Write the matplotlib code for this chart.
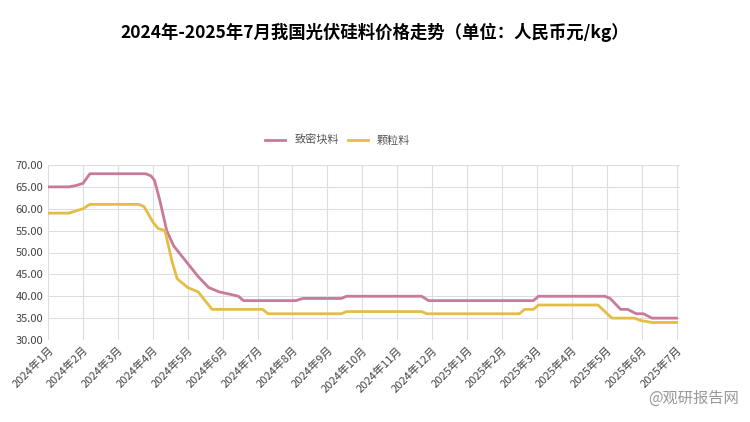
import matplotlib.pyplot as plt

plt.rcParams['font.family'] = ['Noto Sans CJK SC', 'DejaVu Sans']

months = ["2024年1月", "2024年2月", "2024年3月", "2024年4月", "2024年5月", "2024年6月",
          "2024年7月", "2024年8月", "2024年9月", "2024年10月", "2024年11月", "2024年12月",
          "2025年1月", "2025年2月", "2025年3月", "2025年4月", "2025年5月", "2025年6月", "2025年7月"]

dense_x = [0, 0.6, 0.8, 1.0, 1.2, 2.8, 2.95, 3.05, 3.2, 3.4, 3.6, 4.0, 4.3, 4.6, 4.9, 5.3,
           5.45, 5.6, 7.1, 7.3, 8.4, 8.55, 10.7, 10.9, 13.9, 14.05, 15.95, 16.1, 16.4, 16.6,
           16.85, 17.05, 17.3, 18.0]
dense_y = [65, 65, 65.3, 65.8, 68, 68, 67.5, 66.5, 62, 55, 51.5, 47.5, 44.5, 42, 41, 40.3,
           40, 39, 39, 39.5, 39.5, 40, 40, 39, 39, 40, 40, 39.5, 37, 37,
           36, 36, 35, 35]

gran_x = [0, 0.6, 1.0, 1.2, 2.6, 2.75, 3.0, 3.15, 3.35, 3.55, 3.7, 4.0, 4.3, 4.5, 4.7,
          6.15, 6.3, 8.4, 8.55, 10.7, 10.85, 13.5, 13.65, 13.9, 14.05, 15.75, 16.15, 16.8,
          16.95, 17.3, 18.0]
gran_y = [59, 59, 60, 61, 61, 60.5, 57, 55.5, 55, 48, 44, 42, 41, 39, 37,
          37, 36, 36, 36.5, 36.5, 36, 36, 37, 37, 38, 38, 35, 35,
          34.5, 34, 34]

fig = plt.figure(figsize=(7.5, 4.22), dpi=100)
ax = fig.add_axes([48 / 750, 1 - 340 / 422, 632 / 750, 175 / 422])

ax.plot(dense_x, dense_y, color='#c9799a', lw=2, label='致密块料')
ax.plot(gran_x, gran_y, color='#e3bd45', lw=2, label='颗粒料')

ax.set_ylim(30, 70)
ax.set_xlim(0, 18.1)
ax.set_yticks(range(30, 71, 5))
ax.set_yticklabels([f"{v:.2f}" for v in range(30, 71, 5)], fontsize=8, color='#444444')
ax.set_xticks(range(len(months)))
ax.set_xticklabels(months, rotation=45, ha='right', rotation_mode='anchor', fontsize=8, color='#444444')
ax.grid(True, color='#dddddd', lw=0.8)
for s in ax.spines.values():
    s.set_visible(False)
ax.tick_params(length=0)

fig.legend(loc='center', bbox_to_anchor=(0.45, 1 - 140 / 422), ncol=2, frameon=False,
           fontsize=8, handlelength=1.8, columnspacing=0.8, labelcolor='#555555')

fig.text(0.5, 1 - 32 / 422, "2024年-2025年7月我国光伏硅料价格走势（单位：人民币元/kg）",
         ha='center', va='center', fontsize=12.5, fontweight='bold')
fig.text(0.985, 1 - 398 / 422, "@观研报告网", ha='right', va='center', fontsize=11, color='#999999')

fig.savefig('out.png', dpi=100)
